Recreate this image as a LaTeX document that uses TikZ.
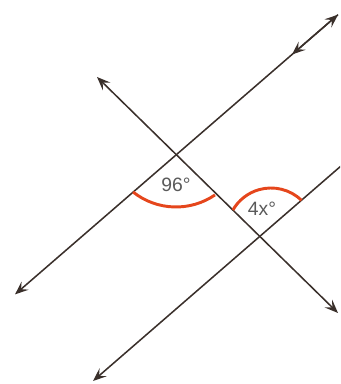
\documentclass[tikz,border=0pt]{standalone}
\usepackage{fontspec}
\setmainfont{Liberation Sans}
\usetikzlibrary{arrows.meta,calc}
\definecolor{ink}{HTML}{3A302B}
\definecolor{arcred}{HTML}{E5461C}
\definecolor{txt}{HTML}{5A5A5A}
\begin{document}
\begin{tikzpicture}[x=0.75pt,y=0.75pt,
  ln/.style={draw=ink,line width=1.15pt},
  mytip/.tip={Stealth[length=10pt,width=8pt,inset=4pt]},
  angarc/.style={draw=arcred,line width=2.2pt},
  lbl/.style={text=txt,font=\fontsize{14.5}{17}\selectfont,inner sep=0pt}]
\useasboundingbox (0,0) rectangle (340,384);
% intersections
\coordinate (A) at (176,229);
\coordinate (B) at (260,148);
% upper parallel line
\coordinate (P1) at (15,89.6);
\coordinate (P2) at (338,369.3);
\coordinate (Pm) at (292,329.5);
% transversal
\coordinate (T1) at (97,307);
\coordinate (T2) at (338,71);
% lower parallel line
\coordinate (L1) at (93,3);
\coordinate (L2) at (345,221.5);
\draw[ln,mytip-mytip] (P1) -- (P2);
\draw[ln,-mytip] (P2) -- (Pm);
\draw[ln,mytip-mytip] (T1) -- (T2);
\begin{scope}
\clip (0,0) rectangle (340,384);
\draw[ln,mytip-] (L1) -- (L2);
\end{scope}
% angle arcs
\draw[angarc] (176,246) ++(231.5:69) arc[start angle=231.5,end angle=304.4,radius=69];
\draw[angarc] (271,152) ++(46:44) arc[start angle=46,end angle=150,radius=44];
% labels
\node[lbl] (a96) at (176,199) {96°};
\node[lbl] (a4x) at (262,175) {4x°};
\end{tikzpicture}
\end{document}
